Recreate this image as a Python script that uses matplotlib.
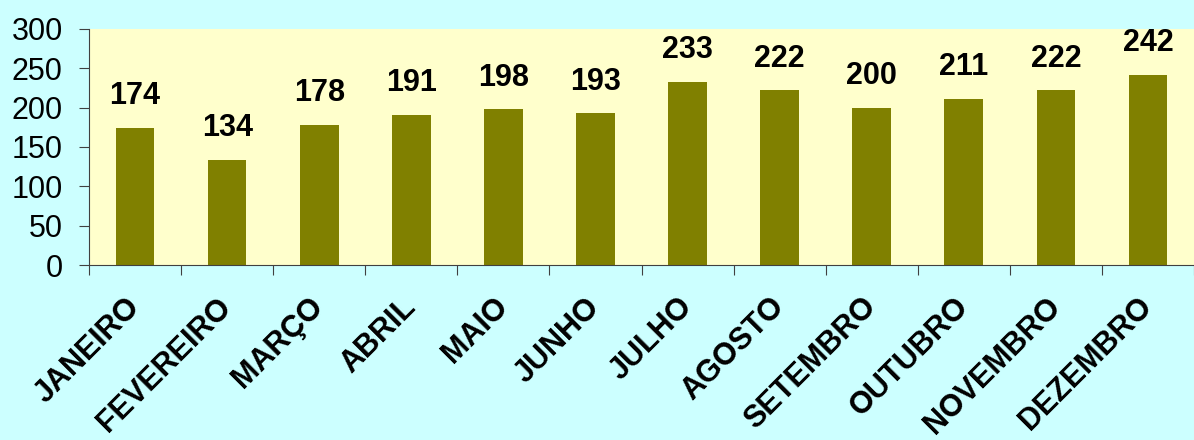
import numpy as np
import matplotlib
matplotlib.use("Agg")
import matplotlib.pyplot as plt

meses = ["JANEIRO", "FEVEREIRO", "MARÇO", "ABRIL", "MAIO", "JUNHO",
         "JULHO", "AGOSTO", "SETEMBRO", "OUTUBRO", "NOVEMBRO", "DEZEMBRO"]
valores = [174, 134, 178, 191, 198, 193, 233, 222, 200, 211, 222, 242]

plt.rcParams["font.family"] = ["Liberation Sans", "DejaVu Sans"]

fig = plt.figure(figsize=(11.94, 4.40), dpi=100, facecolor="#CCFFFF")
ax = fig.add_axes([89/1194, 175/440, 1 - 89/1194, 236/440])
ax.set_facecolor("#FFFFCC")

x = np.arange(len(meses))
ax.bar(x, valores, width=0.42, color="#808000", zorder=2)

for xi, v in zip(x, valores):
    ax.annotate(str(v), (xi, v), xytext=(0, 12), textcoords="offset points",
                ha="center", va="bottom", fontsize=22, fontweight="bold",
                annotation_clip=False)

ax.set_xlim(-0.5, len(meses) - 0.5)
ax.set_ylim(0, 300)
ax.set_yticks(np.arange(0, 301, 50))
ax.tick_params(axis="y", labelsize=22, length=7, direction="out", pad=12, color="#404040")

# ticks at the category borders, labels at the centers
ax.set_xticks(np.arange(-0.5, len(meses), 1.0))
ax.set_xticklabels([])
ax.set_xticks(x, minor=True)
ax.set_xticklabels(meses, minor=True, rotation=45, ha="right", va="center",
                   rotation_mode="anchor", fontsize=22, fontweight="bold")
ax.tick_params(axis="x", which="major", length=7, direction="out", color="#404040")
ax.tick_params(axis="x", which="minor", length=0, pad=27)

for s in ["top", "right"]:
    ax.spines[s].set_visible(False)
ax.spines["left"].set_color("#404040")
ax.spines["bottom"].set_color("#404040")

fig.savefig("out.png", dpi=100, facecolor=fig.get_facecolor())
